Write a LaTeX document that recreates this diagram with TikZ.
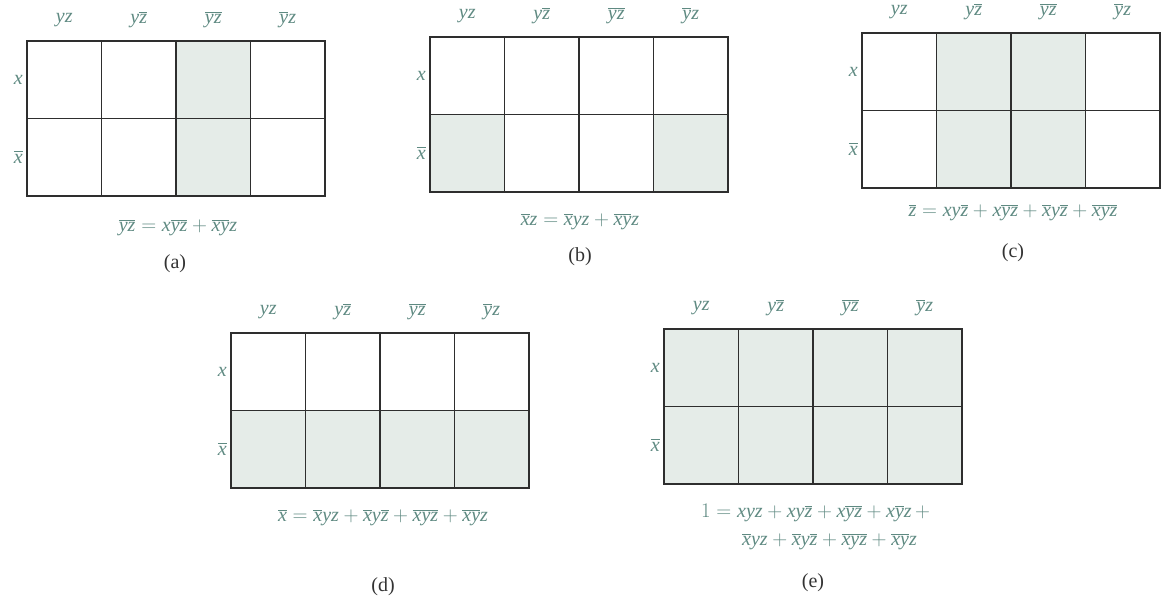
\documentclass[tikz,border=0pt]{standalone}
\usepackage{fontspec}
\setmainfont{Liberation Serif}
\definecolor{gridcol}{HTML}{2E2E2E}
\definecolor{shadecol}{HTML}{E5ECE8}
\definecolor{labcol}{HTML}{5F8A82}
\definecolor{capcol}{HTML}{333333}
\newcommand\I[1]{\textit{#1}}
\newcommand\ovl[1]{\mbox{\vbox{\hrule height 1.2pt\kern1.6pt\hbox{\itshape #1}}}}
\newcommand\Nx{\ovl{x}}
\newcommand\Ny{\ovl{y}}
\newcommand\Nz{\ovl{z}}
\tikzset{
  gridline/.style={draw=gridcol, line width=1.6pt},
  shadecell/.style={fill=shadecol},
  lab/.style={text=labcol, inner sep=0pt},
  eqn/.style={text=labcol, inner sep=0pt},
  capt/.style={text=capcol, inner sep=0pt},
}
\newcommand\kcell[4]{\fill[shadecell] ({#1+74.5*#3},{#2+77.5*#4}) rectangle ++(74.5,77.5);}
\newcommand\kmap[3]{%
  \begin{scope}[shift={(#2,#3)}]
    \draw[gridline] (0,0) rectangle (298,155);
    \draw[gridline] (0,77.5) -- (298,77.5);
    \foreach \i in {1,2,3} {\draw[gridline] ({74.5*\i},0) -- ({74.5*\i},155);}
    \node[lab] (#1c1) at (37.25,-21) {$\I{yz}$};
    \node[lab] (#1c2) at (111.75,-21) {$\I{y}\Nz$};
    \node[lab] (#1c3) at (186.25,-21) {$\Ny\Nz$};
    \node[lab] (#1c4) at (260.75,-21) {$\Ny\I{z}$};
    \node[lab,anchor=east] (#1r1) at (-4,38.75) {$\I{x}$};
    \node[lab,anchor=east] (#1r2) at (-4,116.25) {$\Nx$};
  \end{scope}}
\begin{document}
\begin{tikzpicture}[x=1pt,y=-1pt,font=\fontsize{20}{24}\selectfont]
\useasboundingbox (0,0) rectangle (1162,598);
% (a)
\kcell{27}{41}{2}{0}\kcell{27}{41}{2}{1}
\kmap{a}{27}{41}
\node[eqn] (aeq) at (178,228) {$\Ny\Nz = \I{x}\Ny\Nz + \Nx\Ny\I{z}$};
\node[capt] (acap) at (175,264) {(a)};
% (b)
\kcell{430}{37}{0}{1}\kcell{430}{37}{3}{1}
\kmap{b}{430}{37}
\node[eqn] (beq) at (580,222) {$\Nx\I{z} = \Nx\I{yz} + \Nx\Ny\I{z}$};
\node[capt] (bcap) at (580,257) {(b)};
% (c)
\kcell{862}{33}{1}{0}\kcell{862}{33}{2}{0}\kcell{862}{33}{1}{1}\kcell{862}{33}{2}{1}
\kmap{c}{862}{33}
\node[eqn] (ceq) at (1013,213) {$\Nz = \I{xy}\Nz + \I{x}\Ny\Nz + \Nx\I{y}\Nz + \Nx\Ny\Nz$};
\node[capt] (ccap) at (1013,253) {(c)};
% (d)
\kcell{231}{333}{0}{1}\kcell{231}{333}{1}{1}\kcell{231}{333}{2}{1}\kcell{231}{333}{3}{1}
\kmap{d}{231}{333}
\node[eqn] (deq) at (383,518) {$\Nx = \Nx\I{yz} + \Nx\I{y}\Nz + \Nx\Ny\Nz + \Nx\Ny\I{z}$};
\node[capt] (dcap) at (383,587) {(d)};
% (e)
\foreach \c in {0,1,2,3} {\kcell{664}{329}{\c}{0}\kcell{664}{329}{\c}{1}}
\kmap{e}{664}{329}
\node[eqn,anchor=west] (eeq1) at (701,513) {$1 = \I{xyz} + \I{xy}\Nz + \I{x}\Ny\Nz + \I{x}\Ny\I{z} \,+$};
\node[eqn,anchor=west] (eeq2) at (742,542) {$\Nx\I{yz} + \Nx\I{y}\Nz + \Nx\Ny\Nz + \Nx\Ny\I{z}$};
\node[capt] (ecap) at (813,583) {(e)};
\end{tikzpicture}
\end{document}
